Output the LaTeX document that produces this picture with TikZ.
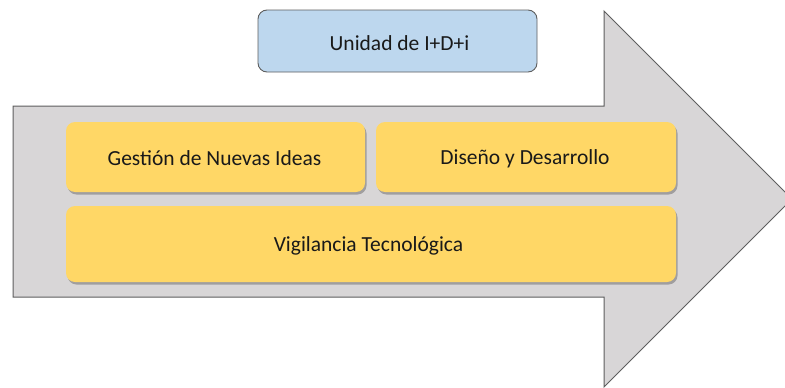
\documentclass[tikz,border=0pt]{standalone}
\usepackage{fontspec}
\setmainfont{Carlito}
\usetikzlibrary{shadows}
\definecolor{arrowgrey}{HTML}{D8D6D7}
\definecolor{edgegrey}{HTML}{5E5E5E}
\definecolor{boxyellow}{HTML}{FFD766}
\definecolor{boxblue}{HTML}{BDD7EE}
\tikzset{
  ybox/.style={fill=boxyellow, rounded corners=9pt, draw=none,
    drop shadow={shadow xshift=1.5pt, shadow yshift=-2.5pt, opacity=0.4, fill=black!70}},
  bbox/.style={fill=boxblue, draw=edgegrey, line width=0.9pt, rounded corners=9pt},
  lbl/.style={font=\fontsize{21.5}{24}\selectfont, anchor=base, inner sep=0pt, text=black!90},
}
\begin{document}
\begin{tikzpicture}[x=1pt,y=-1pt]
\useasboundingbox (0,0) rectangle (785,388);
\begin{scope}
\clip (0,0) rectangle (785,388);
\draw[fill=arrowgrey, draw=edgegrey, line width=1pt]
  (13,106) -- (604,106) -- (604,11) -- (792,199) -- (604,387) -- (604,297) -- (13,297) -- cycle;
\end{scope}
\path[bbox] (258,10) rectangle (537,72);
\node[lbl] (unidad) at (399.5,50) {Unidad de I+D+i};
\path[ybox] (66,122) rectangle (365,192);
\node[lbl] (gestion) at (214.5,165) {Gestión de Nuevas Ideas};
\path[ybox] (376,122) rectangle (676,192);
\node[lbl] (diseno) at (525,164) {Diseño y Desarrollo};
\path[ybox] (66,206) rectangle (676,282);
\node[lbl] (vigilancia) at (368.5,251) {Vigilancia Tecnológica};
\end{tikzpicture}
\end{document}
